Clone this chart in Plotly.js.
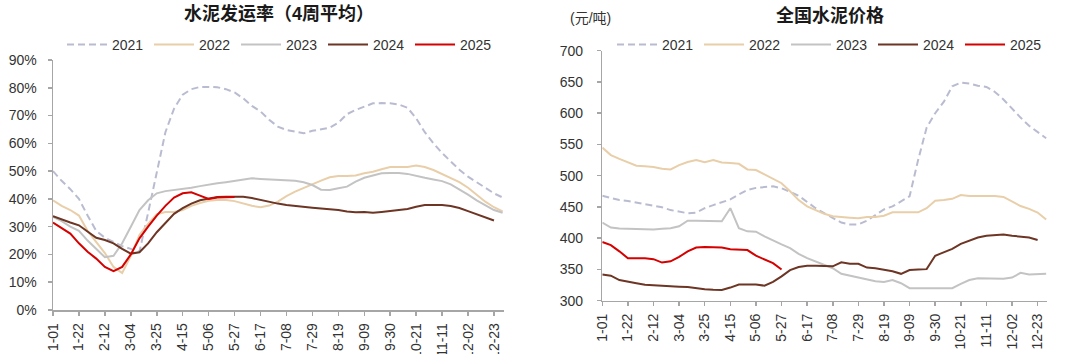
<!DOCTYPE html>
<html><head><meta charset="utf-8">
<script src="https://cdn.plot.ly/plotly-3.0.1.min.js"></script>
<style>html,body{margin:0;padding:0;background:#fff}#chart{width:1080px;height:354px}</style>
</head><body><div id="chart"></div>
<script>
// week categories (x axis)
const weeks = ['1-01','1-08','1-15','1-22','1-29','2-05','2-12','2-19','2-26','3-04','3-11','3-18','3-25','4-01','4-08','4-15','4-22','4-29','5-06','5-13','5-20','5-27','6-03','6-10','6-17','6-24','7-01','7-08','7-15','7-22','7-29','8-05','8-12','8-19','8-26','9-02','9-09','9-16','9-23','9-30','10-07','10-14','10-21','10-28','11-04','11-11','11-18','11-25','12-02','12-09','12-16','12-23','12-30'];
const tickLabels = ['1-01','1-22','2-12','3-04','3-25','4-15','5-06','5-27','6-17','7-08','7-29','8-19','9-09','9-30','10-21','11-11','12-02','12-23'];
const years = ['2021','2022','2023','2024','2025'];

// 水泥发运率（4周平均） %
const rate2021 = [50,46.5,43.5,40,34,28.5,26,24.5,23,22,21,35,50,64,72.5,77.5,79.5,80.3,80.3,80.2,79.5,78.3,76.2,73.5,71.5,68.5,66,64.8,64.2,63.6,64.5,65,65.6,67.4,70.5,72,73.3,74.4,74.5,74.4,74,72.8,69,64,60,56.5,53.5,50.5,48,46,44,42,40.5];
const rate2022 = [39.5,37.5,36,34,28.5,24.5,20.5,15.5,13.3,19.5,27,31,34.5,35.3,35.3,36,37.5,38.5,39.3,39.6,39.6,39.2,38.4,37.5,37,37.6,39,41,42.6,44,45.3,46.6,47.8,48.2,48.2,48.4,49.2,49.8,50.7,51.5,51.5,51.5,52,51.5,50.4,49,47.5,46,44,41.5,39,37,35.5];
const rate2023 = [33.5,32,30,28.5,25,22,19,19.5,24,30,36,39.5,42,42.8,43.2,43.5,44,44.6,45.2,45.6,46,46.5,47,47.4,47.2,47,46.8,46.8,46.5,46,45,43.3,43.2,43.8,44.4,46.2,47.6,48.4,49.2,49.3,49.3,49,48.2,47.6,47,46.4,45.2,43.5,41.5,39.5,37.8,36,35];
const rate2024 = [33.8,32.6,31.5,30.5,28.2,26,25.2,24,22,20.3,20.8,24,28,31.5,34.6,36.7,38.3,39.5,40.2,40.7,40.8,40.8,40.8,40.3,39.6,39,38.3,37.8,37.4,37.2,36.8,36.5,36.3,36,35.5,35.2,35.3,35,35.3,35.6,36,36.4,37.2,37.8,37.8,37.8,37.4,36.7,35.6,34.4,33.3,32.2];
const rate2025 = [31.5,29.5,27.5,24,21,18.5,15.5,14,15.5,20,25.8,30,34,37.5,40.5,42,42.4,41.2,40,40.5,40.7,40.7];

// 全国水泥价格 元/吨
const price2021 = [468,464,461,459.5,457,454.7,452,449.4,445,442,440,441,448,453,458,462,470,477,480.5,482,483,480,474,468,458,448,440,433,425,422,422,428,437,446,451,459,467,525,577,600,618,643,649,647.5,644,642,634,622,607,593,580,570,560];
const price2022 = [545,533,527,522,516,515,514,511,510,517,522,525,521.5,525,521,520.5,519,510,509,502,495,488,475,461,451,445,439,435,433.5,432.8,432,434,434,436,441.4,441.4,441.4,441.4,448,460,461,463,469,467.5,467.5,468,467.5,466,458.4,451.5,447,441,430];
const price2023 = [425,417,415.5,415,414.5,414,414,415,416,419,428,428,428,428,427,448,416,411,410.5,403,396,390,384,375,368,363,357,352,343,340,336,333,331,330,333,328,320,320,320,320,320,320,327,333,336,336,336,335,337,344.5,342,342,343];
const price2024 = [342,340,333,331,328,325.5,324.5,323.5,323,322.5,322,320,318.5,317.5,317,321,326,326,326,324,330,339,349,354,356,356,356,355,361.5,359,359,353,352,350,347,343,349,350,350.5,372,377,383,391,396,401,404,405,406,404,402.5,401,397];
const price2025 = [394,389,379,368,367.8,367.8,366.5,361,363,370,379,385,386,386,385,382.5,382,381,372,366,360,350];

const rates = [rate2021, rate2022, rate2023, rate2024, rate2025];
const prices = [price2021, price2022, price2023, price2024, price2025];
const colors = ['#b9bcd0', '#e8cfaa', '#c3c3c3', '#6d3524', '#d50000'];
const dashes = ['7px,4px', 'solid', 'solid', 'solid', 'solid'];

const traces = [];
rates.forEach((arr, i) => {
  traces.push({
    x: weeks.slice(0, arr.length), y: arr, type: 'scatter', mode: 'lines',
    name: years[i], xaxis: 'x', yaxis: 'y', legend: 'legend',
    line: {color: colors[i], width: 2, dash: dashes[i]},
    hoverinfo: 'skip'
  });
});
prices.forEach((arr, i) => {
  traces.push({
    x: weeks.slice(0, arr.length), y: arr, type: 'scatter', mode: 'lines',
    name: years[i], xaxis: 'x2', yaxis: 'y2', legend: 'legend2',
    line: {color: colors[i], width: 2, dash: dashes[i]},
    hoverinfo: 'skip'
  });
});

const W = 1080, H = 354;
const axisCommon = {
  showgrid: false, zeroline: false, showline: true, linecolor: '#a6a6a6', linewidth: 1.5,
  ticks: 'outside', ticklen: 4, tickcolor: '#a6a6a6', tickwidth: 1.5,
  tickfont: {family: 'Liberation Sans, Arial, sans-serif', size: 14, color: '#333'}
};
const xCommon = Object.assign({}, axisCommon, {
  type: 'category', categoryorder: 'array', categoryarray: weeks,
  tickmode: 'array', tickvals: tickLabels, ticktext: tickLabels, tickangle: -90,
  ticklabelstandoff: 2
});
const legendCommon = {
  orientation: 'h', xanchor: 'left', yanchor: 'middle',
  font: {family: 'Liberation Sans, Arial, sans-serif', size: 14, color: '#333'},
  bgcolor: 'rgba(0,0,0,0)', traceorder: 'normal', itemwidth: 40,
  entrywidth: 32, entrywidthmode: 'pixels', itemclick: false
};

const layout = {
  width: W, height: H, margin: {l: 0, r: 0, t: 0, b: 0, autoexpand: false},
  paper_bgcolor: '#fff', plot_bgcolor: '#fff', showlegend: true,
  xaxis: Object.assign({}, xCommon, {domain: [53/W, 504/W], range: [0, 52.16], anchor: 'y'}),
  yaxis: Object.assign({}, axisCommon, {domain: [1-310/H, 1-60/H], range: [0, 90], dtick: 10,
    ticksuffix: '%', anchor: 'x', ticklabelstandoff: 8}),
  xaxis2: Object.assign({}, xCommon, {domain: [602.3/W, 1047/W], range: [0, 52.1], anchor: 'y2'}),
  yaxis2: Object.assign({}, axisCommon, {domain: [1-300.7/H, 1-50.7/H], range: [300, 700], dtick: 50,
    anchor: 'x2', ticklabelstandoff: 11}),
  legend: Object.assign({}, legendCommon, {x: 62/W, y: 1-45/H}),
  legend2: Object.assign({}, legendCommon, {x: 612/W, y: 1-45/H}),
  annotations: [
    {text: '<b>水泥发运率（4周平均）</b>', xref: 'paper', yref: 'paper', x: 279/W, y: 1-13/H,
     xanchor: 'center', yanchor: 'middle', showarrow: false,
     font: {family: 'Liberation Sans, Noto Sans CJK SC, sans-serif', size: 18, color: '#1a1a1a'}},
    {text: '<b>全国水泥价格</b>', xref: 'paper', yref: 'paper', x: 830/W, y: 1-15/H,
     xanchor: 'center', yanchor: 'middle', showarrow: false,
     font: {family: 'Liberation Sans, Noto Sans CJK SC, sans-serif', size: 18, color: '#1a1a1a'}},
    {text: '(元/吨)', xref: 'paper', yref: 'paper', x: 590/W, y: 1-18/H,
     xanchor: 'center', yanchor: 'middle', showarrow: false,
     font: {family: 'Liberation Sans, Noto Sans CJK SC, sans-serif', size: 14, color: '#333'}}
  ]
};

Plotly.newPlot('chart', traces, layout, {staticPlot: true, displayModeBar: false});
</script>
</body></html>
